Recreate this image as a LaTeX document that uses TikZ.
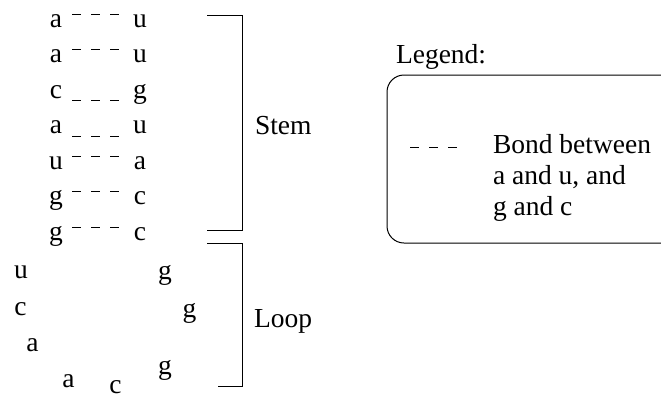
\documentclass[tikz,border=0pt]{standalone}
\usepackage{fontspec}
\setmainfont{Liberation Serif}
\begin{document}
\begin{tikzpicture}[x=1pt,y=-1pt,
  base/.style={inner sep=0pt,outer sep=0pt,anchor=base,font=\fontsize{27.5}{31}\selectfont},
  lbl/.style={base,anchor=base west},
  bond/.style={line width=1pt,dash pattern=on 8.5pt off 10.5pt},
  frame/.style={line width=1pt}]
\clip (0,0) rectangle (661,400);
\fill[white] (0,0) rectangle (661,400);

% stem: base pairs, left strand and right strand
\foreach \i/\l/\r/\y in {1/a/u/27,2/a/u/62.5,3/c/g/98,4/a/u/133.5,5/u/a/169,6/g/c/204.5,7/g/c/240}{
  \node[base] (l\i) at (56,\y) {\l};
  \node[base] (r\i) at (140,\y) {\r};
}
% raised bonds
\foreach \i in {1,2,5,6,7}
  \draw[bond] ([shift={(16,-13)}]l\i.base) -- ([shift={(-21.5,-13)}]r\i.base);
% low bonds
\foreach \i in {3,4}
  \draw[bond] ([shift={(16,2.5)}]l\i.base) -- ([shift={(-21.5,2.5)}]r\i.base);

% loop bases
\node[base] (k1) at (21,278) {u};
\node[base] (k2) at (20.5,315) {c};
\node[base] (k3) at (32.5,351) {a};
\node[base] (k4) at (68.5,387) {a};
\node[base] (k5) at (115.5,393) {c};
\node[base] (k6) at (165,374) {g};
\node[base] (k7) at (189.5,317) {g};
\node[base] (k8) at (165,279) {g};

% brackets
\draw[frame] (207,15) -- (242,15) -- (242,230) -- (207,230);
\draw[frame] (207,243) -- (242,243) -- (242,386) -- (218,386);
\node[lbl] (stem) at (255,134) {Stem};
\node[lbl] (loop) at (254,327) {Loop};

% legend
\node[lbl] (leg) at (396,63) {Legend:};
\draw[frame,rounded corners=17pt] (700,75) -- (387,75) -- (387,243) -- (700,243);
\coordinate (d1) at (410,147);
\coordinate (d2) at (458.5,147);
\draw[bond] (d1) -- (d2);
\node[lbl] (t1) at (493,153) {Bond between};
\node[lbl] (t2) at (493,184) {a and u, and};
\node[lbl] (t3) at (493,215) {g and c};
\end{tikzpicture}
\end{document}
